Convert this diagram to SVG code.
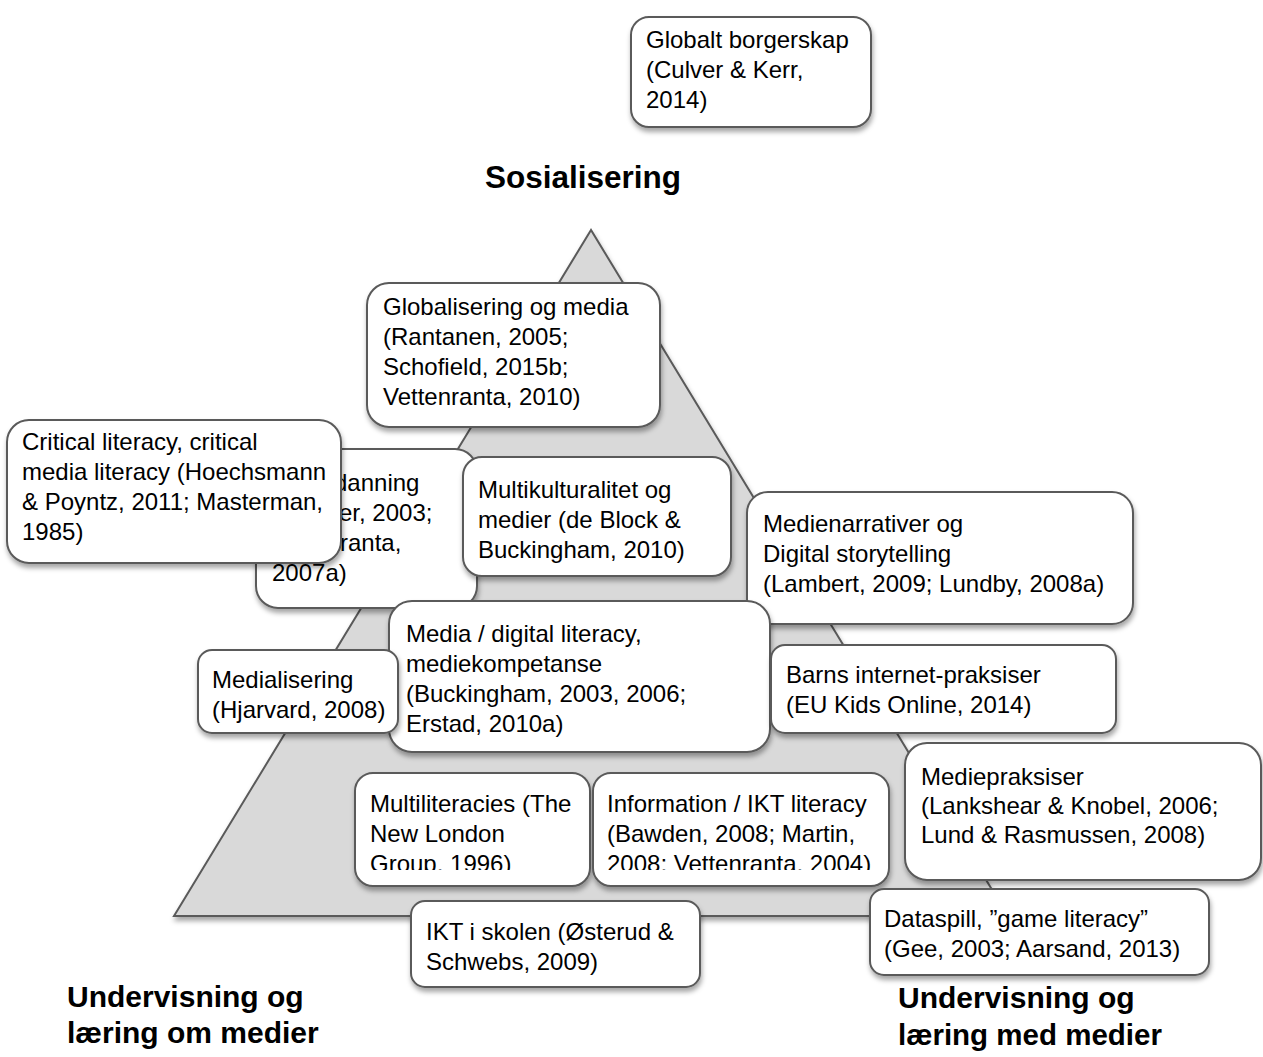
<svg xmlns="http://www.w3.org/2000/svg" width="1263" height="1057" viewBox="0 0 1263 1057">
<defs>
<style>
.bx{fill:#ffffff;stroke:#5a5a5a;stroke-width:2;filter:url(#sh)}
.t{font-family:"Liberation Sans",Arial,sans-serif;font-size:24px;fill:#000}
.h{font-family:"Liberation Sans",Arial,sans-serif;font-size:30px;font-weight:bold;fill:#000}
</style>
<filter id="sh" x="-10%" y="-10%" width="125%" height="140%">
<feDropShadow dx="1" dy="4" stdDeviation="2.5" flood-color="#000" flood-opacity="0.35"/>
</filter>
<clipPath id="c1"><rect x="355" y="773" width="235" height="97"/></clipPath>
<clipPath id="c2"><rect x="593" y="773" width="296" height="97"/></clipPath>
</defs>
<rect x="0" y="0" width="1263" height="1057" fill="#ffffff"/>

<g id="pyramid">
<polygon points="591,230 174,916 1008,916" fill="#d9d9d9" stroke="#5a5a5a" stroke-width="2" filter="url(#sh)"/>
</g>

<g id="connectors"></g>

<g id="labels">
<text class="h" x="485" y="188" style="font-size:31.5px">Sosialisering</text>
<text class="h" x="67" y="1007">Undervisning og</text>
<text class="h" x="67" y="1043">læring om medier</text>
<text class="h" x="898" y="1008">Undervisning og</text>
<text class="h" x="898" y="1045" style="font-size:29.5px">læring med medier</text>
</g>

<g id="n-globalt">
<rect class="bx" x="631" y="17" width="240" height="110" rx="18"/>
<text class="t" x="646" y="48">Globalt borgerskap</text>
<text class="t" x="646" y="78">(Culver &amp; Kerr,</text>
<text class="t" x="646" y="108">2014)</text>
</g>

<g id="n-globalisering">
<rect class="bx" x="367" y="283" width="293" height="144" rx="22"/>
<text class="t" x="383" y="315">Globalisering og media</text>
<text class="t" x="383" y="345">(Rantanen, 2005;</text>
<text class="t" x="383" y="375">Schofield, 2015b;</text>
<text class="t" x="383" y="405">Vettenranta, 2010)</text>
</g>

<g id="n-danning">
<rect class="bx" x="256" y="449" width="221" height="159" rx="22"/>
<text class="t" x="334" y="491">danning</text>
<text class="t" x="339" y="521">er, 2003;</text>
<text class="t" x="340" y="551">ranta,</text>
<text class="t" x="272" y="581">2007a)</text>
</g>

<g id="n-critical">
<rect class="bx" x="7" y="420" width="334" height="143" rx="22"/>
<text class="t" x="22" y="450">Critical literacy, critical</text>
<text class="t" x="22" y="480">media literacy (Hoechsmann</text>
<text class="t" x="22" y="510">&amp; Poyntz, 2011; Masterman,</text>
<text class="t" x="22" y="540">1985)</text>
</g>

<g id="n-multikultur">
<rect class="bx" x="463" y="457" width="268" height="119" rx="19"/>
<text class="t" x="478" y="498">Multikulturalitet og</text>
<text class="t" x="478" y="528">medier (de Block &amp;</text>
<text class="t" x="478" y="558">Buckingham, 2010)</text>
</g>

<g id="n-narrativer">
<rect class="bx" x="747" y="492" width="386" height="132" rx="21"/>
<text class="t" x="763" y="532">Medienarrativer og</text>
<text class="t" x="763" y="562">Digital storytelling</text>
<text class="t" x="763" y="592">(Lambert, 2009; Lundby, 2008a)</text>
</g>

<g id="n-media">
<rect class="bx" x="389" y="601" width="381" height="151" rx="23"/>
<text class="t" x="406" y="642">Media / digital literacy,</text>
<text class="t" x="406" y="672">mediekompetanse</text>
<text class="t" x="406" y="702">(Buckingham, 2003, 2006;</text>
<text class="t" x="406" y="732">Erstad, 2010a)</text>
</g>

<g id="n-medialisering">
<rect class="bx" x="198" y="650" width="200" height="83" rx="14"/>
<text class="t" x="212" y="688">Medialisering</text>
<text class="t" x="212" y="718">(Hjarvard, 2008)</text>
</g>

<g id="n-barns">
<rect class="bx" x="771" y="645" width="345" height="88" rx="14"/>
<text class="t" x="786" y="683">Barns internet-praksiser</text>
<text class="t" x="786" y="713">(EU Kids Online, 2014)</text>
</g>

<g id="n-praksiser">
<rect class="bx" x="905" y="743" width="356" height="137" rx="22"/>
<text class="t" x="921" y="785">Mediepraksiser</text>
<text class="t" x="921" y="814">(Lankshear &amp; Knobel, 2006;</text>
<text class="t" x="921" y="843">Lund &amp; Rasmussen, 2008)</text>
</g>

<g id="n-multiliteracies">
<rect class="bx" x="355" y="773" width="235" height="113" rx="18"/>
<g clip-path="url(#c1)">
<text class="t" x="370" y="812">Multiliteracies (The</text>
<text class="t" x="370" y="842">New London</text>
<text class="t" x="370" y="872">Group, 1996)</text>
</g>
</g>

<g id="n-information">
<rect class="bx" x="593" y="773" width="296" height="113" rx="18"/>
<g clip-path="url(#c2)">
<text class="t" x="607" y="812">Information / IKT literacy</text>
<text class="t" x="607" y="842">(Bawden, 2008; Martin,</text>
<text class="t" x="607" y="872">2008; Vettenranta, 2004)</text>
</g>
</g>

<g id="n-ikt">
<rect class="bx" x="411" y="901" width="289" height="86" rx="14"/>
<text class="t" x="426" y="940">IKT i skolen (Østerud &amp;</text>
<text class="t" x="426" y="970">Schwebs, 2009)</text>
</g>

<g id="n-dataspill">
<rect class="bx" x="870" y="889" width="339" height="86" rx="14"/>
<text class="t" x="884" y="927">Dataspill, ”game literacy”</text>
<text class="t" x="884" y="957">(Gee, 2003; Aarsand, 2013)</text>
</g>
</svg>
